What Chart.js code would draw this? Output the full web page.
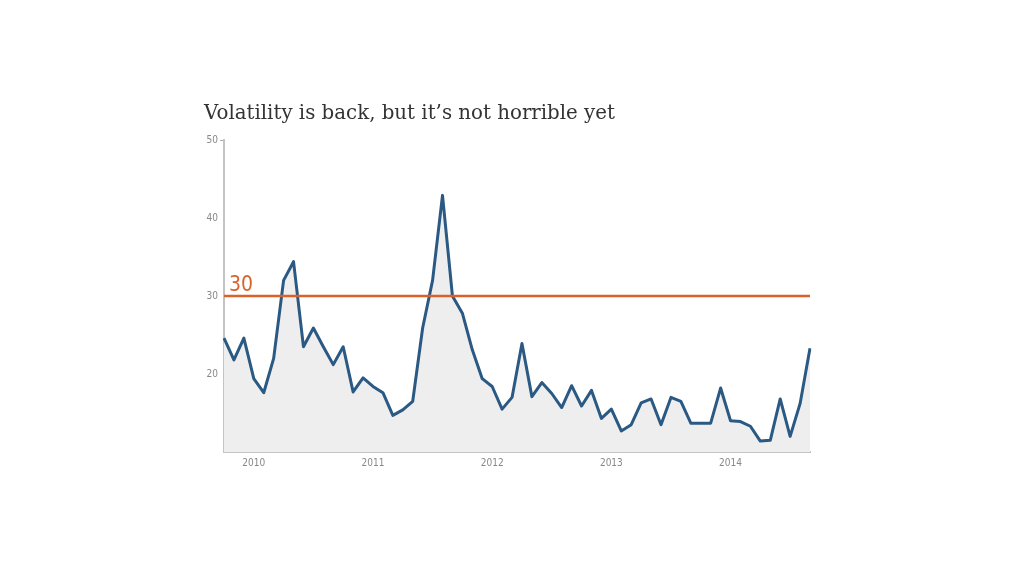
<!DOCTYPE html>
<html>
<head>
<meta charset="utf-8">
<script src="https://cdn.jsdelivr.net/npm/chart.js@4"></script>
<style>
  html, body { margin: 0; padding: 0; background: #ffffff; }
  #wrap { position: relative; width: 1024px; height: 576px; }
  #title { position: absolute; left: 204px; top: 101px; margin: 0; font-family: 'DejaVu Serif', serif; font-weight: normal; font-size: 19.8px; color: #333333; white-space: nowrap; }
  canvas { position: absolute; left: 0; top: 0; }
</style>
</head>
<body>
<div id="wrap">
  <canvas id="c" width="1024" height="576"></canvas>
  <h1 id="title">Volatility is back, but it’s not horrible yet</h1>
</div>
<script>
const months = [
  'Oct 2009','Nov 2009','Dec 2009',
  'Jan 2010','Feb 2010','Mar 2010','Apr 2010','May 2010','Jun 2010','Jul 2010','Aug 2010','Sep 2010','Oct 2010','Nov 2010','Dec 2010',
  'Jan 2011','Feb 2011','Mar 2011','Apr 2011','May 2011','Jun 2011','Jul 2011','Aug 2011','Sep 2011','Oct 2011','Nov 2011','Dec 2011',
  'Jan 2012','Feb 2012','Mar 2012','Apr 2012','May 2012','Jun 2012','Jul 2012','Aug 2012','Sep 2012','Oct 2012','Nov 2012','Dec 2012',
  'Jan 2013','Feb 2013','Mar 2013','Apr 2013','May 2013','Jun 2013','Jul 2013','Aug 2013','Sep 2013','Oct 2013','Nov 2013','Dec 2013',
  'Jan 2014','Feb 2014','Mar 2014','Apr 2014','May 2014','Jun 2014','Jul 2014','Aug 2014','Sep 2014'
];
const vix = [
  24.6, 21.8, 24.6,
  19.4, 17.6, 22.0, 32.0, 34.4, 23.5, 25.9, 23.5, 21.2, 23.5, 17.7, 19.5,
  18.4, 17.6, 14.7, 15.4, 16.5, 25.9, 32.0, 42.9, 30.0, 27.8, 23.1, 19.4,
  18.4, 15.5, 17.0, 23.9, 17.1, 18.9, 17.5, 15.7, 18.5, 15.9, 17.9, 14.3,
  15.5, 12.7, 13.5, 16.3, 16.8, 13.5, 17.0, 16.5, 13.7, 13.7, 13.7, 18.2,
  14.0, 13.9, 13.3, 11.4, 11.5, 16.8, 12.0, 16.2, 23.3
];
const threshold = 30;
const yTicks = [20, 30, 40, 50];
const yMin = 10, yMax = 50;

const thresholdLabel = {
  id: 'thresholdLabel',
  afterDatasetsDraw(chart) {
    const y = chart.scales.y.getPixelForValue(threshold);
    const ctx = chart.ctx;
    ctx.save();
    ctx.fillStyle = '#d9622b';
    ctx.font = "21px 'Liberation Sans Narrow', 'DejaVu Sans Condensed', sans-serif";
    ctx.textAlign = 'left';
    ctx.textBaseline = 'alphabetic';
    ctx.fillText(String(threshold), chart.chartArea.left + 5, y - 5);
    ctx.restore();
  }
};

new Chart(document.getElementById('c'), {
  type: 'line',
  data: {
    labels: months,
    datasets: [
      {
        data: vix,
        borderColor: '#2a5983',
        borderWidth: 3,
        backgroundColor: '#eeeeee',
        fill: 'start',
        pointRadius: 0,
        tension: 0,
        borderJoinStyle: 'round',
        order: 2
      },
      {
        data: months.map(() => threshold),
        borderColor: '#d9622b',
        borderWidth: 2.5,
        fill: false,
        pointRadius: 0,
        order: 1
      }
    ]
  },
  options: {
    responsive: false,
    animation: false,
    layout: { padding: { top: 140, right: 214, bottom: 0, left: 0 } },
    plugins: { legend: { display: false }, tooltip: { enabled: false }, title: { display: false } },
    scales: {
      x: {
        type: 'category',
        offset: false,
        border: { display: true, color: '#c4c4c4', width: 2 },
        grid: { display: false, drawTicks: false },
        ticks: {
          autoSkip: false, maxRotation: 0, minRotation: 0, padding: 5,
          color: '#888888',
          font: { family: "'Liberation Sans Narrow', 'DejaVu Sans Condensed', sans-serif", size: 10 },
          callback: function(v, i) { const l = months[i]; return l.startsWith('Jan') ? l.slice(4) : ''; }
        },
        afterFit(s) { s.height = 124; }
      },
      y: {
        min: yMin, max: yMax,
        border: { display: true, color: '#c4c4c4', width: 2 },
        grid: {
          drawOnChartArea: false, drawTicks: true, tickLength: 4,
          color: (c) => (c.tick && c.tick.value === yMax) ? '#b0b0b0' : 'rgba(0,0,0,0)'
        },
        ticks: {
          stepSize: 10, padding: 2, color: '#888888',
          font: { family: "'Liberation Sans Narrow', 'DejaVu Sans Condensed', sans-serif", size: 10 },
          callback: (v) => yTicks.includes(v) ? String(v) : ''
        },
        afterFit(s) { s.width = 224; }
      }
    }
  },
  plugins: [thresholdLabel]
});
</script>
</body>
</html>
